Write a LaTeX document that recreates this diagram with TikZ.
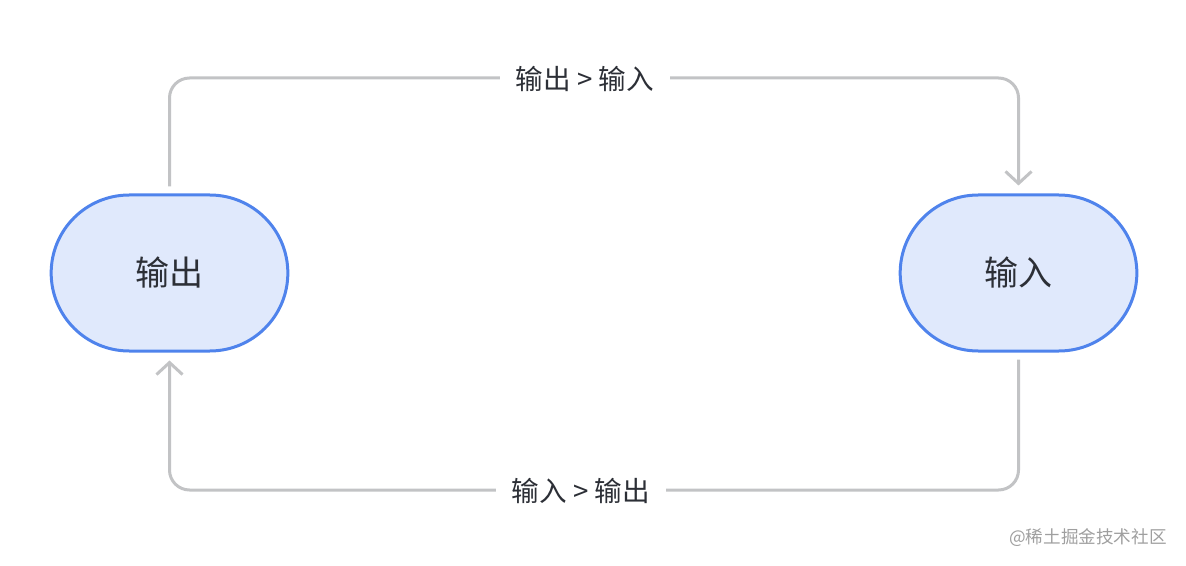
\documentclass[tikz,border=0pt]{standalone}
\usepackage{fontspec}
\setmainfont{Noto Sans CJK SC}
\usetikzlibrary{shapes.misc,arrows.meta}

\definecolor{stateblue}{HTML}{4F83EC}
\definecolor{statefill}{HTML}{E0E9FC}
\definecolor{flowgrey}{HTML}{C2C3C5}
\definecolor{textdark}{HTML}{2C2F36}

\tikzset{
  state/.style={rounded rectangle, draw=stateblue, fill=statefill, line width=1.5pt,
    minimum width=125pt, minimum height=78pt, text=textdark, font=\fontsize{17pt}{19pt}\selectfont},
  flow/.style={draw=flowgrey, line width=1.5pt, rounded corners=10pt},
  lab/.style={fill=white, text=textdark, inner xsep=8pt, font=\fontsize{13.8pt}{15pt}\selectfont},
}

\begin{document}
\begin{tikzpicture}[x=0.5pt,y=-0.5pt]
   \useasboundingbox (0,0) rectangle (1186,566);

   \node[state] (out) at (169.5,273) {输出};
   \node[state] (in) at (1018.5,273) {输入};

   \coordinate (top) at (595,78);
   \coordinate (bot) at (595,490);

   \path[flow,-{Straight Barb[length=6pt,width=13pt]},shorten <=3.5pt,shorten >=4pt]
      (out.north) |- (top) -| (in.north);
   \path[flow,-{Straight Barb[length=6pt,width=13pt]},shorten <=3.5pt,shorten >=4pt]
      (in.south) |- (bot) -| (out.south);

   \node[lab] (l1) at (585,79) {输出 > 输入};
   \node[lab] (l2) at (581,491) {输入 > 输出};

   \node[text=gray!75, font=\fontsize{8.8pt}{10pt}\selectfont] (mark) at (1088,538) {@稀土掘金技术社区};
\end{tikzpicture}
\end{document}
